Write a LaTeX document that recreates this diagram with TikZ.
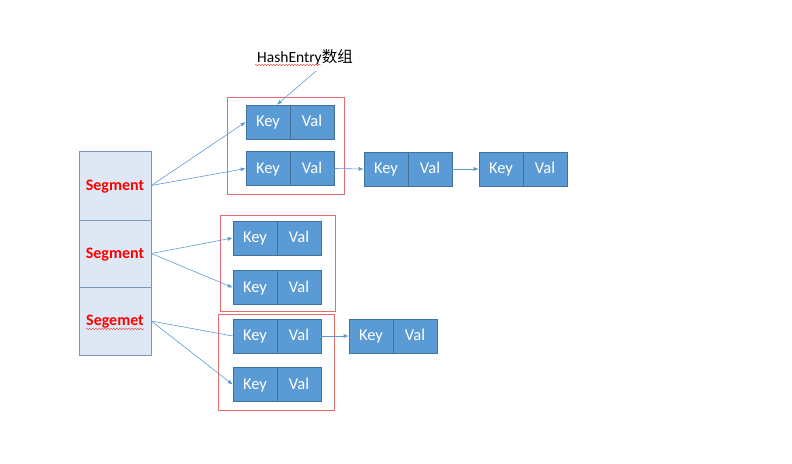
\documentclass[tikz,border=0pt]{standalone}
\usepackage{fontspec}
\setmainfont{Carlito}
\newfontfamily\cjk{Noto Sans CJK SC}
\usetikzlibrary{arrows.meta,decorations.pathmorphing}
\definecolor{entryfill}{HTML}{5B9BD5}
\definecolor{entryline}{HTML}{41719C}
\definecolor{segfill}{HTML}{DEE8F4}
\definecolor{segline}{HTML}{7A96BC}
\definecolor{redbox}{HTML}{E36C6C}
\definecolor{arrowc}{HTML}{5B9BD5}
\definecolor{segtext}{HTML}{FF0000}
\tikzset{
  cell/.style={draw=entryline, fill=entryfill, text=white, minimum width=44pt,
    minimum height=34pt, inner sep=0pt, line width=0.6pt,
    text height=11pt, text depth=1.5pt,
    font=\fontsize{16.5}{16.5}\selectfont},
  segcell/.style={draw=segline, fill=segfill, text=segtext, minimum width=72pt,
    inner sep=0pt, line width=0.6pt, text height=11pt, text depth=2pt,
    font=\fontsize{16}{16}\selectfont\bfseries},
  redframe/.style={draw=redbox, line width=0.8pt, inner sep=0pt},
  link/.style={draw=arrowc, line width=0.6pt, -{Latex[length=5pt,width=4pt]}},
  plainlink/.style={draw=arrowc, line width=0.6pt},
  wavy/.style={draw=red!80, line width=0.4pt, decorate,
    decoration={snake, amplitude=0.7pt, segment length=3pt}}
}
\newcommand\mkentry[3]{%
  \node[cell] (#1k) at (#2+22,#3) {Key};
  \node[cell] (#1v) at (#2+66,#3) {Val};}
\begin{document}
\begin{tikzpicture}[x=1pt,y=-1pt]
\useasboundingbox (0,0) rectangle (792,463);
% red frames
\node[redframe, minimum width=117pt, minimum height=97pt] (box1) at (285.5,145.5) {};
\node[redframe, minimum width=115pt, minimum height=96pt] (box2) at (277.5,263) {};
\node[redframe, minimum width=116pt, minimum height=96pt] (box3) at (276,362) {};
% segments
\node[segcell, minimum height=69pt] (seg1) at (115,185.5) {Segment};
\node[segcell, minimum height=67pt] (seg2) at (115,253.5) {Segment};
\node[segcell, minimum height=68pt] (seg3) at (115,321) {Segemet};
% entries
\mkentry{A1}{246}{122}
\mkentry{A2}{246}{168.5}
\mkentry{A3}{364}{169}
\mkentry{A4}{479}{169}
\mkentry{B1}{233}{238}
\mkentry{B2}{233}{287.5}
\mkentry{C1}{233}{336}
\mkentry{C2}{233}{384.5}
\mkentry{C3}{349}{336}
% title
\node[inner sep=0pt, font=\fontsize{15.5}{15.5}\selectfont] (title) at (305,57) {HashEntry{\cjk 数组}};
\coordinate (tailpt) at (316,71);
\coordinate (wavyA) at (255,65);
\coordinate (wavyB) at (321,65);
\coordinate (wavyC) at (86,329);
\coordinate (wavyD) at (144,329);
\draw[wavy] (wavyA) -- (wavyB);
\draw[wavy] (wavyC) -- (wavyD);
\draw[link] (tailpt) -- ([xshift=9pt]A1k.north);
% connectors
\draw[link] (seg1.east) -- (A1k.west);
\draw[link] (seg1.east) -- (A2k.west);
\draw[link] (seg2.east) -- (B1k.west);
\draw[link] (seg2.east) -- (B2k.west);
\draw[plainlink] (seg3.east) -- (C1k.west);
\draw[link] (seg3.east) -- (C2k.west);
\draw[link] (A2v.east) -- (A3k.west);
\draw[link] (A3v.east) -- (A4k.west);
\draw[link] (C1v.east) -- (C3k.west);
\end{tikzpicture}
\end{document}
